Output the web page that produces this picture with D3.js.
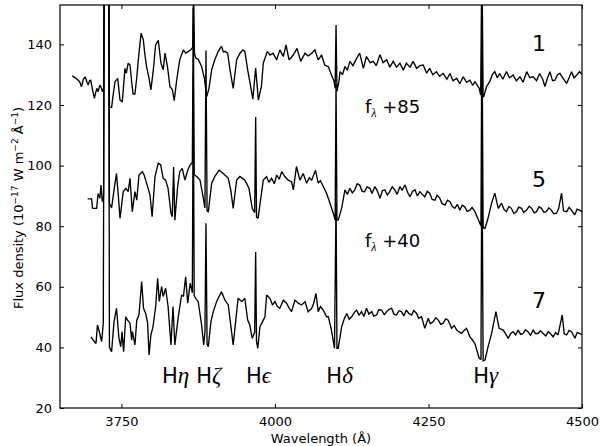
<!DOCTYPE html>
<html><head><meta charset="utf-8">
<script src="https://cdn.jsdelivr.net/npm/d3@7/dist/d3.min.js"></script>
<style>
body{margin:0;background:#fff}
text{font-family:"DejaVu Sans",sans-serif;fill:#000}
</style>
</head><body>
<svg id="chart" width="600" height="446"></svg>
<script>
// ---------- data ----------
const xTicks = [3750, 4000, 4250, 4500];
const yTicks = [20, 40, 60, 80, 100, 120, 140];
const xDomain = [3650, 4500];
const yDomain = [20, 153];

const specNames = ["1", "5", "7"];
const offsetLabels = ["+85", "+40"];
const lineNames = ["η", "ζ", "ϵ", "δ", "γ"];
const lineWl = [3835, 3889, 3970, 4102, 4340];

const wl1 = [3670,3676,3682,3685,3688,3691,3694,3696,3698,3700,3703,3706,3708,3710,3712,3715,3717,3719,3721,3722.5,3729,3730.5,3734,3737,3739.5,3744,3747.7,3751.5,3755.8,3758,3761,3764,3767,3769,3772,3775,3777.5,3782,3785.7,3788,3791,3795,3798,3802,3805.7,3810,3814.4,3818,3821,3825,3829,3833,3836,3840,3845,3851,3854.6,3859,3863,3866,3867.5,3869,3871,3875,3880.6,3885,3888.8,3892.6,3897,3902,3907.7,3913,3916,3918.6,3923,3926.8,3932,3937.6,3943,3948,3951,3955.6,3959,3964,3968.6,3973,3978,3981,3987.6,3992,3997,4002.8,4008,4013.6,4018,4023,4029.8,4036,4042,4049,4054,4060,4065,4070.5,4076,4081,4087,4092,4096,4098,4099.5,4101,4104,4106,4110,4114,4118,4122,4127,4133,4138,4144,4149,4155,4160,4165,4171,4176,4182,4187,4192.6,4198,4203.5,4209,4214,4220,4225,4230.7,4236,4241.5,4247,4252,4257,4263,4268,4274,4280,4285,4290,4296,4301,4306.6,4312,4317.5,4322,4325.6,4332.7,4335,4337,4339,4340,4344.6,4350,4354,4358,4362,4366,4371,4377,4382,4388,4393,4399,4404,4410,4415,4420.5,4426,4431,4436,4439.6,4444,4447.7,4452,4456,4460,4464,4470,4475,4479,4483,4487,4491.6,4496,4500];
const fl1 = [129.6,128.8,127.7,126.0,128.5,129.3,127.5,126.6,128.0,128.2,125.0,122.2,124.0,125.5,124.4,126.6,125.8,124.4,125.5,200,200,119.3,119.2,124,127.7,128.8,121.6,121.1,132.1,130.5,133.8,133.2,127,123.6,123.6,129,134.9,143.7,141.5,137,132.6,128.8,125,131.6,139.8,141.3,133.8,131.6,137.1,132.7,126.1,125,121.4,128.2,134.9,138.2,137.1,137.7,138.2,139,160,137,135.5,135.1,132.7,128.9,122.7,125.5,131.6,134.9,137.7,139.4,137.5,137.7,137.1,131.6,125.5,134.9,137.1,138.2,137.7,131.6,127.8,121.9,132.2,121.6,126.1,133.8,137.7,136.5,137.1,134.9,138.2,136,139.8,134.9,136.5,138.7,134.4,137.1,136.2,137.1,138.2,134.9,136.5,133.2,132.6,129.9,128,125.5,146.4,124.5,127.5,131,130,132.7,131.5,134.4,133,135.4,137.1,132.1,136,134,134.4,133,136.6,134,134.9,132.5,134.4,132.5,133.8,131.5,133.8,132.5,134.4,132.1,133,133.2,130.5,132.1,130,131,129.5,130.4,128.5,130.4,128,128.8,127,129.3,127.5,128.2,126.5,127.7,125.5,123.3,170,122.8,122.8,126.1,127.8,130,131,129,130.4,128.5,131,129,129.9,128,129.3,127.5,131,129,129.3,128,130.4,128.5,126.1,129,131,128,128.2,130,130.4,128.5,127.1,129,131,129,129.9,131,130];

const wl5 = [3695,3701.5,3703,3704,3709.7,3712,3715,3716.7,3719,3721,3722.5,3729,3730.5,3734,3738,3742,3745,3747.7,3753,3757.5,3761,3764,3767.7,3772,3775,3778.6,3784,3787,3791,3796.5,3800,3804.7,3810,3814,3818,3822,3826,3830.7,3832.8,3835,3837,3841.6,3845,3849,3853.5,3858,3862,3865.5,3867,3868.5,3872.5,3878,3883,3886,3887.7,3889.5,3891.5,3897,3902,3909,3916,3924,3928,3932,3937.6,3943,3951,3957.7,3963,3967,3968.6,3970,3972.5,3978,3981,3986.5,3990,3994.6,3999,4002.8,4007,4011,4016,4021.7,4027,4030,4035,4040.7,4046,4051.6,4056,4059.8,4066,4070.5,4074,4078.7,4084,4089.6,4095,4098,4099.5,4101,4103,4108.6,4114,4118,4122,4126,4130,4134,4138,4142,4146,4150,4154.7,4158,4162.8,4167,4171,4175,4179,4183,4187,4191,4195,4199,4203.5,4207,4211.7,4216,4219.8,4224,4228,4232,4236,4240,4244,4248,4252,4256,4260.5,4264,4268.6,4272,4276.8,4281,4285,4289,4293,4297,4301,4305,4309,4313,4317.5,4321,4325.6,4332.6,4335.5,4337,4339,4342,4347,4352.8,4358,4363.6,4369,4373,4377,4381,4385,4389,4393.5,4397,4401.6,4405,4409.8,4414,4418,4422,4426,4430,4434,4438,4442,4446,4450,4454,4458.6,4462,4466.7,4470,4475,4479,4483,4488,4492,4496,4500];
const fl5 = [89,89,86,85.9,85.9,90.8,89.2,93.6,88.1,90,200,200,87.6,86,92,97.4,90,82.6,91.4,92.5,91.4,95.8,84.8,91.4,88.6,96.9,98,96.9,94.2,90.3,83.1,96.4,100.8,100.2,95.8,95.2,92.5,84.3,83.1,99.5,82,93.1,98,99.1,95.2,98.5,100.2,101,152,97,96.4,95.2,89.7,86,138,85,84.8,94.2,96.4,98.5,97.4,95.8,92,85.9,95.2,96.4,95.2,92.5,85.9,84.5,116,83,82.6,90.8,95.2,96.3,94.5,95.8,94,96.9,95.5,98,96.4,95.2,94.7,92,99.7,95.2,97.4,94.2,96,95.2,98.5,94.2,95,93.1,90.9,87.6,84.3,82,127,82,82,85.9,92,90.5,92.5,91,92,94,93.6,91.5,91.4,93,92.5,90.8,93.1,91.5,89.2,91.8,92,90.3,91.4,93,92,90.5,93.1,91.8,93.6,91.2,89.7,91.5,92,90,91.4,90.5,89.7,91.5,90.9,88.8,88.6,90.2,89.2,87.5,87,88.6,88.1,86.5,85.9,87.2,85.3,86.9,86.4,84.9,85.3,86.2,84.8,81.5,80.1,150,79.5,79.3,82.6,87.6,90.9,85.9,87.6,85.5,84.8,86.5,85.9,84.2,84.8,86.3,85.9,84.5,85.3,86.6,85.9,84.4,84.8,86.4,85.9,84.6,84.8,86.1,85.3,84.1,84.3,85.8,90.9,85,84.8,86.2,85.3,83.7,85.6,85.3,84.8];

const wl7 = [3700.5,3704,3708.6,3711,3714,3717.8,3720.5,3722.5,3729,3730.5,3734,3738,3742,3746,3749,3751,3753.6,3757,3760,3764,3766.7,3768,3772,3775,3778.6,3783,3786,3789.5,3792.7,3795,3798,3801.4,3805.8,3809,3811.7,3815.5,3818,3822,3826,3830.7,3834,3837,3842.6,3848,3851,3854.6,3858,3862,3865.5,3867,3868.5,3871,3875,3880.6,3884,3886,3887.7,3889.5,3891.5,3895.8,3899.6,3905,3909,3913,3918.6,3924,3928.4,3932,3936,3940,3946,3951,3955.6,3959,3963,3967,3968.6,3970,3972,3975.6,3981,3983.7,3986.5,3992,3996,4000,4004,4008,4013.6,4019,4023,4027,4032.6,4038,4043.5,4049,4054,4059.8,4063,4066.8,4070.5,4074,4078.7,4084,4087,4092,4097,4099.5,4101,4103,4108.6,4113,4117,4121,4125,4129,4133,4137,4141,4145,4149,4153,4157.5,4161,4165.6,4169,4173.7,4178,4182,4186,4190,4194,4198,4202,4206,4210,4214,4218,4222.6,4226,4230.7,4234,4238.8,4244,4249.7,4253,4257.8,4262,4266,4270,4274,4278,4282,4287.7,4292,4296,4300,4304,4308,4312,4317.5,4321,4325.6,4332.6,4335.5,4337,4339,4342,4347,4352.8,4359.8,4365,4371.7,4376,4379.8,4384,4388,4392,4396,4400,4404,4408,4412,4416,4420.5,4424,4428.6,4432,4436.8,4441,4445,4449,4453,4457,4461,4467.8,4471,4475,4479,4483,4488.5,4492,4496,4500];
const fl7 = [43.5,42.4,41.3,47.4,45.2,41.9,48,200,200,40,38.6,48.5,52.9,43,40.2,45.2,38.6,50.1,49,48,42.4,45.2,40.8,49,50.7,61.7,52.9,51.2,48,37.5,44.1,46.8,53.5,62.8,55.2,60.1,56.8,59.5,53.5,40.8,53.5,40.8,50.1,57.3,56.8,63.3,54.6,61.2,58,130,57,56.2,55.1,47.4,40.8,45,81,41,40.2,48.5,51.8,55.1,56.8,58.4,55.6,54,46.8,40.8,48.5,56.2,55.1,56.2,49,47.4,43,45,71.5,42,39.7,46.8,49,50.1,57.3,56.2,54,55.1,53.5,52.9,55.6,54.6,53,51.8,55.6,54.6,54,55.1,51.8,52.9,54.5,57.8,51.8,53.5,52.3,50.1,50.1,45.7,39.7,88,39.7,39.7,46.8,49.5,51.2,49.3,50.1,51.5,52.3,50.6,51.8,50.2,52.9,51,51.8,50.3,50.7,52.4,52.3,50.8,51.8,52.6,52.9,50.9,50.7,52.1,51.8,50.4,52.3,51.2,50.7,52.2,51.2,49.6,50.1,46.3,49.6,47.8,48.5,49.8,49,47.6,48,49.4,49,46.3,47.2,45.7,45.1,44.6,45.6,46.3,43.5,42.6,41.3,36.4,36,110,35.5,35.8,40.2,44.6,51.8,46.3,45.7,44.4,43,44.6,45.2,44.1,45.7,44.3,44.6,45.8,45.2,44,45.7,44.6,44.6,45.5,44.6,43.8,45.2,44.4,43.5,44.9,44.1,50.7,44.5,44.1,45.6,45.2,43,44.9,44.6,44.2];

const spectra = [
  {wl: wl1, fl: fl1},
  {wl: wl5, fl: fl5},
  {wl: wl7, fl: fl7}
];

// ---------- layout ----------
const svg = d3.select("#chart");
const L = 60, R = 582, T = 5, B = 408;
const x = d3.scaleLinear().domain(xDomain).range([L, R]);
const y = d3.scaleLinear().domain(yDomain).range([B, T]);

svg.append("defs").append("clipPath").attr("id", "clip")
  .append("rect").attr("x", L).attr("y", T).attr("width", R - L).attr("height", B - T);

const line = d3.line().x(d => x(d[0])).y(d => y(d[1]));
const g = svg.append("g").attr("clip-path", "url(#clip)");
spectra.forEach(s => {
  const pts = s.wl.map((w, i) => [w, s.fl[i]]);
  g.append("path").datum(pts).attr("d", line)
    .attr("fill", "none").attr("stroke", "#000").attr("stroke-width", 1.35)
    .attr("stroke-linejoin", "miter").attr("stroke-miterlimit", 2);
});

// axes with inward ticks
const tl = 4;
const fmt = d3.format("d");
const axB = d3.axisBottom(x).tickValues(xTicks).tickFormat(fmt).tickSizeInner(-tl).tickSizeOuter(0).tickPadding(9);
const axT = d3.axisTop(x).tickValues(xTicks).tickSizeInner(-tl).tickSizeOuter(0).tickFormat("");
const axL = d3.axisLeft(y).tickValues(yTicks).tickFormat(fmt).tickSizeInner(-tl).tickSizeOuter(0).tickPadding(8);
const axR = d3.axisRight(y).tickValues(yTicks).tickSizeInner(-tl).tickSizeOuter(0).tickFormat("");
function style(sel) {
  sel.select(".domain").remove();
  sel.selectAll("line").attr("stroke", "#000").attr("stroke-width", 1);
  sel.selectAll("text").attr("font-size", 13).attr("font-family", "DejaVu Sans").attr("fill", "#000");
}
svg.append("g").attr("transform", `translate(0,${B})`).call(axB).call(style);
svg.append("g").attr("transform", `translate(0,${T})`).call(axT).call(style);
svg.append("g").attr("transform", `translate(${L},0)`).call(axL).call(style);
svg.append("g").attr("transform", `translate(${R},0)`).call(axR).call(style);

svg.append("rect").attr("x", L).attr("y", T).attr("width", R - L).attr("height", B - T)
  .attr("fill", "none").attr("stroke", "#000").attr("stroke-width", 1.2);

// axis titles
svg.append("text").attr("x", (L + R) / 2).attr("y", 443).attr("text-anchor", "middle")
  .attr("font-size", 13).text("Wavelength (Å)");

const yl = svg.append("text").attr("transform", `translate(23,${208}) rotate(-90)`)
  .attr("text-anchor", "middle").attr("font-size", 13);
yl.append("tspan").text("Flux density (10");
yl.append("tspan").attr("font-size", 9).attr("dy", -5).text("−17");
yl.append("tspan").attr("dy", 5).text(" W m");
yl.append("tspan").attr("font-size", 9).attr("dy", -5).text("−2");
yl.append("tspan").attr("dy", 5).text(" Å");
yl.append("tspan").attr("font-size", 9).attr("dy", -5).text("−1");
yl.append("tspan").attr("dy", 5).text(")");

// spectrum numbers
const numY = [51, 187, 308];
specNames.forEach((n, i) => {
  svg.append("text").attr("x", 539).attr("y", numY[i]).attr("text-anchor", "middle")
    .attr("font-size", 22).text(n);
});

// offset labels
const offY = [113, 247];
offsetLabels.forEach((t, i) => {
  const tx = svg.append("text").attr("x", 365).attr("y", offY[i]).attr("font-size", 18);
  tx.append("tspan").text("f");
  tx.append("tspan").attr("font-size", 12).attr("dy", 4)
    .attr("font-family", "Liberation Serif").attr("font-style", "italic").text("λ");
  tx.append("tspan").attr("dy", -4).text(" " + t);
});

// Balmer line labels
lineNames.forEach((n, i) => {
  const tx = svg.append("text").attr("x", x(lineWl[i]) + 2).attr("y", 383)
    .attr("text-anchor", "middle").attr("font-size", 21);
  tx.append("tspan").text("H");
  tx.append("tspan").attr("font-family", "Liberation Serif").attr("font-style", "italic")
    .attr("font-size", 23).text(n);
});
</script>
</body></html>
